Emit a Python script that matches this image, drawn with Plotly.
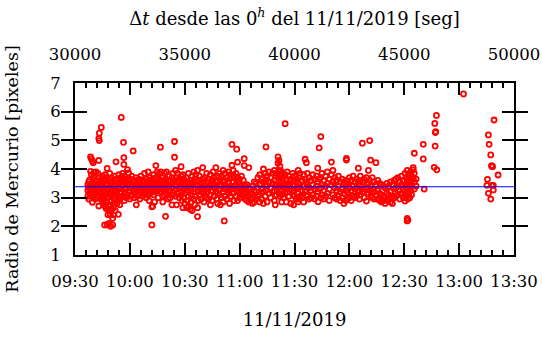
import plotly.graph_objects as go
import pandas as pd

# minutes after 09:30 of 11/11/2019 and measured radius (pixels)
obs_0930 = [
    (7.0, 3.45), (7.0, 3.25), (7.0, 3.05), (7.5, 3.55), (7.5, 3.35), (7.5, 2.95),
    (8.0, 3.62), (8.0, 3.15), (8.5, 4.42), (8.5, 3.92), (8.5, 3.40),
    (9.0, 4.35), (9.0, 3.80), (9.0, 3.28), (9.0, 3.10), (9.5, 4.28), (9.5, 2.84), (9.5, 3.50),
    (10.0, 4.22), (10.0, 3.70), (10.0, 3.20), (10.0, 3.02), (10.5, 3.88), (10.5, 3.45), (10.5, 3.30),
    (11.0, 3.60), (11.0, 3.15), (11.0, 2.95), (11.5, 3.90), (11.5, 3.40),
    (12.0, 3.55), (12.0, 3.22), (12.0, 3.00), (12.5, 3.85), (12.5, 3.35), (12.5, 3.08),
    (13.0, 5.07), (13.0, 4.30), (13.0, 3.50), (13.0, 2.71), (13.3, 5.25), (13.3, 4.99), (13.3, 3.70), (13.3, 3.20),
    (14.0, 3.60), (14.0, 3.30), (14.0, 2.95), (14.4, 5.45), (14.4, 3.40), (14.4, 3.15),
    (15.0, 3.75), (15.0, 3.45), (15.0, 3.05), (15.0, 2.90), (15.5, 3.55), (15.5, 3.25), (15.5, 2.80),
    (16.0, 3.65), (16.0, 3.35), (16.2, 2.05), (16.0, 2.95), (16.5, 3.80), (16.5, 3.10), (16.5, 2.70),
    (17.0, 3.50), (17.0, 3.20), (17.0, 2.62), (17.0, 2.85), (17.6, 4.02), (17.6, 3.70), (17.6, 3.30), (17.6, 2.05),
    (18.0, 3.45), (18.0, 3.00), (18.0, 2.60), (18.0, 2.40), (18.5, 3.60), (18.5, 3.15), (18.5, 2.75), (18.5, 2.10),
    (19.0, 3.85), (19.0, 3.35), (19.0, 2.55), (19.3, 2.40), (19.5, 3.50), (19.5, 3.05), (19.5, 2.70), (19.5, 2.00),
    (20.0, 3.70), (20.0, 3.25), (20.0, 2.90), (20.0, 2.60), (20.6, 3.55), (20.6, 2.28), (20.6, 2.05), (20.6, 3.10),
    (21.0, 3.40), (21.0, 3.00), (21.2, 2.40), (21.0, 2.65), (21.5, 3.75), (21.5, 3.20), (21.5, 2.85),
    (22.0, 3.60), (22.0, 3.30), (22.0, 2.95), (22.0, 2.55), (22.4, 4.25), (22.4, 3.45), (22.4, 3.10),
    (23.0, 3.65), (23.0, 3.25), (23.0, 2.80), (23.7, 3.50), (23.7, 3.05), (23.7, 2.42),
    (24.0, 3.80), (24.0, 3.35), (24.0, 2.95), (24.5, 3.60), (24.5, 3.15), (24.5, 2.75),
    (25.0, 3.70), (25.0, 3.40), (25.0, 3.00), (25.3, 5.80), (25.3, 3.55), (25.3, 3.20),
    (26.0, 3.85), (26.0, 3.45), (26.0, 3.05), (26.5, 4.93), (26.7, 4.40), (26.7, 4.16), (26.5, 3.60),
    (27.0, 3.75), (27.0, 3.30), (27.0, 2.90), (27.5, 3.55), (27.5, 3.15),
    (28.0, 3.65), (28.0, 3.35), (28.0, 3.00), (28.7, 3.98), (28.7, 3.45), (28.7, 3.10),
    (29.3, 3.86), (29.3, 3.60), (29.3, 3.25),
]
obs_1000 = [
    (30.0, 3.50), (30.0, 3.20), (30.0, 2.95), (30.5, 3.65), (30.5, 3.35), (30.5, 3.05),
    (31.0, 3.75), (31.0, 3.40), (31.0, 3.10), (31.8, 4.63), (31.8, 3.55), (31.8, 3.25),
    (32.5, 3.60), (32.5, 3.30), (32.5, 3.00), (33.0, 3.45), (33.0, 3.15),
    (33.5, 3.70), (33.5, 3.35), (33.5, 2.75), (34.0, 3.55), (34.0, 3.25), (34.0, 3.05),
    (35.0, 3.65), (35.0, 3.40), (35.0, 3.10), (35.5, 3.50), (35.5, 3.20), (35.5, 2.95),
    (36.0, 3.75), (36.0, 3.35), (37.0, 3.60), (37.0, 3.30), (37.0, 3.05), (37.5, 3.45), (37.5, 3.15),
    (38.0, 3.85), (38.0, 3.55), (38.0, 3.25), (39.0, 3.65), (39.0, 3.35), (39.0, 3.00), (39.5, 3.50), (39.5, 3.20),
    (40.0, 3.90), (40.0, 3.40), (40.0, 3.10), (40.5, 3.60), (40.5, 3.30), (40.5, 2.90),
    (41.0, 3.70), (41.0, 3.45), (41.0, 3.15), (42.0, 3.55), (42.0, 3.25), (42.0, 2.68), (42.0, 2.05),
    (42.5, 3.65), (42.5, 3.35), (42.5, 2.70), (43.0, 3.80), (43.0, 3.45), (43.0, 3.10),
    (43.5, 3.55), (43.5, 3.20), (43.5, 2.85), (44.2, 4.12), (44.2, 3.70), (44.2, 3.40),
    (45.0, 3.90), (45.0, 3.50), (45.0, 3.25), (45.5, 3.65), (45.5, 3.30), (45.5, 3.00),
    (46.0, 3.85), (46.0, 3.45), (46.7, 4.76), (46.7, 3.60), (46.7, 3.30),
    (47.0, 3.90), (47.0, 3.55), (47.0, 3.20), (48.0, 3.70), (48.0, 3.35), (48.0, 3.05), (48.0, 2.85),
    (48.5, 3.55), (48.5, 3.25), (49.0, 3.85), (49.0, 3.45), (49.0, 3.10), (49.5, 3.65), (49.5, 3.30), (49.5, 2.35),
    (50.0, 3.90), (50.0, 3.50), (50.0, 3.15), (51.0, 3.60), (51.0, 3.25), (51.0, 2.95), (51.5, 3.75), (51.5, 3.40),
    (52.0, 3.55), (52.0, 3.20), (52.0, 3.00), (53.0, 3.70), (53.0, 3.35), (53.0, 2.75),
    (53.5, 3.85), (53.5, 3.50), (53.5, 3.10), (54.4, 4.96), (54.4, 4.41), (54.4, 3.60), (54.4, 3.25),
    (55.0, 3.95), (55.0, 3.45), (55.0, 3.05), (55.5, 3.70), (55.5, 3.30), (55.5, 2.75),
    (56.0, 3.85), (56.0, 3.55), (56.0, 3.15), (57.0, 3.65), (57.0, 3.35), (57.0, 3.00),
    (58.0, 4.08), (58.0, 3.75), (58.0, 3.40), (58.0, 3.10), (58.5, 3.55), (58.5, 3.20), (58.5, 2.90),
    (59.0, 3.80), (59.0, 3.45), (59.0, 2.65), (59.5, 3.65), (59.5, 3.30), (59.5, 3.00),
]
obs_1030 = [
    (60.0, 3.50), (60.0, 3.15), (60.0, 2.80), (61.0, 3.70), (61.0, 3.35), (61.0, 2.65),
    (61.5, 3.55), (61.5, 3.25), (61.5, 2.90), (62.0, 3.85), (62.0, 3.45), (62.0, 3.05), (62.0, 2.68),
    (63.0, 3.60), (63.0, 3.30), (63.0, 2.60), (63.5, 3.40), (63.5, 3.10), (63.5, 2.85),
    (64.0, 3.75), (64.0, 3.50), (64.0, 2.55), (65.0, 3.90), (65.0, 3.55), (65.0, 3.20), (65.0, 2.95),
    (65.5, 3.65), (65.5, 3.30), (65.5, 2.75), (66.0, 3.80), (66.0, 3.45), (66.0, 3.05),
    (67.0, 3.95), (67.0, 3.40), (67.0, 2.34), (67.0, 2.65), (67.5, 3.60), (67.5, 3.25), (67.5, 2.90),
    (68.0, 3.75), (68.0, 3.35), (68.0, 3.10), (69.0, 3.55), (69.0, 3.20), (69.0, 2.95),
    (69.8, 4.05), (69.8, 3.65), (69.8, 3.30), (70.5, 3.50), (70.5, 3.15), (70.5, 2.85),
    (71.0, 3.70), (71.0, 3.40), (71.0, 3.05), (72.0, 3.85), (72.0, 3.30), (72.0, 3.00), (72.5, 3.55), (72.5, 3.20),
    (73.0, 3.65), (73.0, 3.35), (73.0, 2.95), (74.0, 3.80), (74.0, 3.45), (74.0, 3.10), (74.0, 2.75),
    (75.0, 3.60), (75.0, 3.25), (75.0, 2.90), (75.5, 3.90), (75.5, 3.50),
    (76.0, 3.70), (76.0, 3.35), (76.0, 3.05), (77.0, 4.05), (77.0, 3.55), (77.0, 3.20),
    (77.5, 3.75), (77.5, 3.40), (77.5, 2.95), (78.0, 3.60), (78.0, 3.15), (78.0, 2.80),
    (79.0, 3.85), (79.0, 3.45), (79.0, 3.10), (79.5, 3.65), (79.5, 3.30), (79.5, 2.75),
    (80.0, 3.75), (80.0, 3.40), (80.0, 3.00), (81.0, 3.95), (81.0, 3.55), (81.0, 3.20), (81.0, 2.85),
    (81.6, 3.60), (81.6, 3.30), (81.6, 2.19), (82.0, 3.85), (82.0, 3.45), (82.0, 3.05),
    (83.0, 3.70), (83.0, 3.35), (83.0, 2.95), (84.0, 3.90), (84.0, 3.50), (84.0, 3.15),
    (84.5, 3.65), (84.5, 3.25), (84.5, 2.80), (85.0, 3.80), (85.0, 3.40), (85.0, 3.05),
    (85.8, 4.86), (85.8, 4.13), (85.8, 3.70), (85.8, 3.30), (86.5, 3.95), (86.5, 3.55), (86.5, 3.15),
    (87.0, 3.75), (87.0, 3.40), (87.0, 2.90), (88.0, 3.85), (88.0, 3.45), (88.0, 3.05),
    (88.4, 4.69), (88.4, 3.60), (88.4, 3.25), (88.9, 4.24), (88.9, 3.70), (88.9, 3.35), (88.9, 2.90),
    (89.5, 3.55), (89.5, 3.20),
]
obs_1100 = [
    (90.0, 3.65), (90.0, 3.30), (90.0, 3.00), (91.0, 3.75), (91.0, 3.40), (91.0, 3.10),
    (92.0, 3.60), (92.0, 3.35), (92.0, 3.05), (92.5, 4.36), (92.5, 4.12), (92.5, 3.45), (92.5, 3.15),
    (93.0, 3.40), (93.0, 3.20), (93.0, 2.95), (94.0, 3.45), (94.0, 3.15), (94.0, 2.90),
    (95.0, 4.05), (95.0, 3.35), (95.0, 3.05), (95.0, 2.85), (96.0, 3.30), (96.0, 3.10), (96.0, 2.95),
    (97.0, 3.40), (97.0, 3.00), (97.0, 2.80), (98.0, 3.55), (98.0, 3.25), (98.0, 2.85),
    (99.0, 3.50), (99.0, 3.20), (99.0, 2.95), (100.0, 3.70), (100.0, 3.35), (100.0, 3.05),
    (101.0, 3.80), (101.0, 3.45), (101.0, 3.10), (101.0, 2.85), (102.0, 3.65), (102.0, 3.30), (102.0, 2.95),
    (103.0, 4.00), (103.0, 3.55), (103.0, 3.20), (103.0, 2.80), (104.0, 3.85), (104.0, 3.45), (104.0, 3.05),
    (104.4, 4.77), (104.4, 3.60), (104.4, 3.25), (105.0, 3.75), (105.0, 3.40), (105.0, 2.85),
    (106.0, 3.90), (106.0, 3.55), (106.0, 3.15), (107.0, 3.70), (107.0, 3.35), (107.0, 3.00),
    (108.0, 3.85), (108.0, 3.50), (108.0, 3.20), (109.0, 3.95), (109.0, 3.60), (109.0, 3.25), (109.0, 2.90),
    (109.5, 3.75), (109.5, 3.40), (109.5, 2.75), (110.0, 3.85), (110.0, 3.45), (110.0, 3.10),
    (111.0, 4.42), (111.0, 4.20), (111.0, 3.70), (111.0, 3.35), (111.5, 4.30), (111.5, 3.95), (111.5, 3.55), (111.5, 3.15),
    (112.0, 4.10), (112.0, 3.80), (112.0, 3.40), (112.0, 3.05), (112.5, 3.93), (112.5, 3.65), (112.5, 3.25),
    (113.0, 3.85), (113.0, 3.50), (113.0, 2.85), (113.0, 3.10), (114.0, 3.70), (114.0, 3.35), (114.0, 3.00),
    (114.9, 5.58), (114.9, 3.80), (114.9, 3.45), (114.9, 3.15), (115.5, 3.60), (115.5, 3.30), (115.5, 2.85),
    (116.0, 3.90), (116.0, 3.50), (116.0, 3.20), (117.0, 3.75), (117.0, 3.40), (117.0, 3.05),
    (118.0, 3.65), (118.0, 3.30), (118.0, 2.80), (119.0, 3.85), (119.0, 3.45), (119.0, 3.10),
    (119.5, 3.60), (119.5, 3.25), (119.5, 2.75),
]
obs_1130 = [
    (120.0, 3.75), (120.0, 3.40), (120.0, 3.05), (121.0, 3.65), (121.0, 3.30), (121.0, 2.95),
    (122.0, 3.95), (122.0, 3.50), (122.0, 3.15), (122.0, 2.85), (122.5, 3.70), (122.5, 3.35), (122.5, 2.95),
    (123.0, 3.85), (123.0, 3.45), (123.0, 3.05), (124.0, 3.60), (124.0, 3.25), (124.0, 3.00),
    (125.0, 3.80), (125.0, 3.40), (125.0, 2.85), (125.8, 4.34), (125.8, 3.65), (125.8, 3.20),
    (126.5, 4.22), (126.5, 3.55), (126.5, 3.10), (127.0, 3.85), (127.0, 3.45), (127.0, 3.05),
    (128.0, 3.70), (128.0, 3.35), (128.0, 2.95), (129.0, 3.60), (129.0, 3.25), (129.0, 3.00),
    (130.0, 3.80), (130.0, 3.45), (130.0, 3.10), (131.0, 3.65), (131.0, 3.30), (131.0, 2.95),
    (132.0, 3.75), (132.0, 3.40), (132.0, 3.05), (132.7, 4.03), (132.7, 3.55), (132.7, 3.20), (132.9, 2.86),
    (133.5, 4.74), (133.5, 3.65), (133.5, 3.30), (134.4, 5.13), (134.4, 3.70), (134.4, 3.35), (134.4, 3.00),
    (135.0, 3.85), (135.0, 3.45), (135.0, 3.10), (136.0, 3.60), (136.0, 3.25), (136.0, 2.95),
    (137.0, 3.75), (137.0, 3.40), (137.0, 3.05), (138.0, 3.90), (138.0, 3.50), (138.0, 3.15),
    (139.0, 3.65), (139.0, 3.30), (139.0, 2.90), (140.2, 4.24), (140.2, 3.80), (140.2, 3.45),
    (141.0, 3.95), (141.0, 3.55), (141.0, 3.10), (142.0, 3.70), (142.0, 3.35), (142.0, 3.00),
    (143.0, 3.60), (143.0, 3.25), (143.0, 2.95), (144.0, 3.75), (144.0, 3.40), (144.0, 3.05),
    (145.0, 3.55), (145.0, 3.20), (145.0, 2.90), (146.0, 3.65), (146.0, 3.30), (146.0, 3.00),
    (147.0, 3.50), (147.0, 3.15), (147.0, 2.80), (148.0, 3.60), (148.0, 3.25), (148.0, 2.90),
    (148.4, 4.37), (148.4, 4.31), (148.4, 3.45), (149.0, 3.55), (149.0, 3.20), (149.0, 2.95),
]
obs_1200 = [
    (150.0, 3.70), (150.0, 3.35), (150.0, 3.00), (151.0, 3.60), (151.0, 3.25), (151.0, 2.90),
    (152.0, 3.75), (152.0, 3.40), (152.0, 3.05), (153.0, 3.55), (153.0, 3.30), (153.0, 3.00),
    (154.0, 3.65), (154.0, 3.35), (154.0, 3.05), (154.9, 4.03), (154.9, 3.50), (154.9, 3.20),
    (155.5, 3.60), (155.5, 3.25), (155.5, 2.95), (156.0, 3.75), (156.0, 3.45), (156.0, 3.10),
    (157.1, 4.90), (157.1, 3.55), (157.1, 3.20), (158.0, 3.65), (158.0, 3.30), (158.0, 3.00),
    (159.3, 3.70), (159.3, 3.35), (159.3, 2.88), (160.4, 3.95), (160.4, 3.50), (160.4, 3.15),
    (161.1, 4.99), (161.1, 3.60), (161.1, 3.25), (161.6, 4.31), (161.6, 3.40), (161.6, 3.05),
    (162.5, 3.70), (162.5, 3.30), (162.5, 3.00), (163.5, 3.55), (163.5, 3.20), (163.5, 2.95),
    (164.5, 4.22), (164.5, 3.45), (164.5, 3.10), (165.5, 3.60), (165.5, 3.25), (165.5, 2.95),
    (166.5, 3.50), (166.5, 3.15), (166.5, 2.90), (167.5, 3.45), (167.5, 3.10), (167.5, 2.85),
    (168.5, 3.40), (168.5, 3.05), (168.5, 2.90), (169.5, 3.35), (169.5, 3.00), (169.5, 2.80),
    (170.5, 3.50), (170.5, 3.15), (170.5, 2.90), (171.5, 3.40), (171.5, 3.10), (171.5, 2.95),
    (172.5, 3.55), (172.5, 3.20), (172.5, 2.85), (173.5, 3.45), (173.5, 3.05), (173.5, 2.80),
    (174.5, 3.60), (174.5, 3.30), (174.5, 3.00), (175.5, 3.65), (175.5, 3.35), (175.5, 3.05),
    (176.5, 3.70), (176.5, 3.40), (176.5, 3.10), (177.5, 3.55), (177.5, 3.25), (177.5, 2.95),
    (178.5, 3.75), (178.5, 3.45), (178.5, 3.15), (179.5, 3.60), (179.5, 3.30), (179.5, 3.00),
]
obs_1230 = [
    (180.4, 3.85), (180.4, 3.45), (180.4, 3.10), (180.4, 2.88), (181.0, 3.70), (181.0, 3.35), (181.0, 3.05),
    (181.6, 3.95), (181.6, 3.55), (181.6, 2.28), (181.6, 2.19), (182.0, 3.65), (182.0, 3.30), (182.0, 2.95), (182.0, 2.22),
    (182.5, 3.80), (182.5, 3.45), (182.5, 3.15), (183.0, 3.70), (183.0, 3.40), (183.0, 3.00),
    (183.5, 3.90), (183.5, 3.55), (183.5, 3.25), (184.0, 3.75), (184.0, 3.45), (184.0, 3.10),
    (184.9, 4.05), (184.9, 3.97), (184.9, 3.70), (185.5, 4.55), (185.5, 3.85), (185.5, 3.55), (185.5, 3.30),
    (186.5, 3.65), (186.5, 3.40), (190.4, 4.86), (190.4, 4.35), (190.9, 3.30),
    (196.4, 4.06), (196.7, 5.59), (196.9, 4.80), (197.0, 5.27), (197.2, 5.30),
    (197.6, 5.87), (197.8, 3.97), (212.4, 6.62),
]
obs_1300 = [
    (225.2, 3.43), (225.5, 3.64), (226.0, 5.19), (226.0, 3.15), (226.4, 4.86),
    (227.3, 4.49), (227.3, 2.95), (227.8, 4.10), (227.8, 4.12), (227.8, 3.43),
    (228.3, 4.08), (228.7, 3.27), (228.7, 3.43), (229.1, 5.71), (231.3, 3.79),
]
mean_radius = 3.38
top_ticks = [30000, 35000, 40000, 45000, 50000]
date_label = "11/11/2019"
start = pd.Timestamp("2019-11-11 09:30")
end = pd.Timestamp("2019-11-11 13:30")

obs = obs_0930 + obs_1000 + obs_1030 + obs_1100 + obs_1130 + obs_1200 + obs_1230 + obs_1300
minutes = [o[0] for o in obs]
radius = [o[1] for o in obs]
times = start + pd.to_timedelta(minutes, unit="min")

FONT = "DejaVu Serif"
fig = go.Figure()
fig.add_trace(go.Scatter(
    x=times, y=radius, mode="markers",
    marker=dict(symbol="circle-open", size=5, color="#ff0000", line=dict(width=1.8, color="#ff0000")),
    showlegend=False, hoverinfo="skip"))
fig.add_trace(go.Scatter(
    x=[start, end], y=[mean_radius, mean_radius], mode="lines",
    line=dict(color="#0000ff", width=1.2), showlegend=False, hoverinfo="skip"))
fig.add_trace(go.Scatter(
    x=top_ticks, y=[None] * len(top_ticks), xaxis="x2", mode="markers",
    showlegend=False, hoverinfo="skip"))

fig.update_layout(
    width=542, height=337,
    margin=dict(l=75, r=28, t=83, b=82),
    paper_bgcolor="white", plot_bgcolor="white",
    font=dict(family=FONT, size=16.5, color="black"),
    xaxis=dict(
        type="date", range=[start, end], tick0=start, dtick=1800000, tickformat="%H:%M",
        ticks="inside", ticklen=12, tickwidth=1.5, tickcolor="black",
        minor=dict(dtick=360000, ticks="inside", ticklen=5, tickwidth=1.5, tickcolor="black"),
        showline=True, linewidth=2, linecolor="black", mirror="allticks",
        showgrid=False, zeroline=False, ticklabelstandoff=10, automargin=False,
        title=dict(text=date_label, font=dict(size=18), standoff=24),
    ),
    xaxis2=dict(
        overlaying="x", side="top", range=[top_ticks[0], top_ticks[-1]], tickvals=top_ticks,
        tickformat="d", ticks="", showline=False, showgrid=False, zeroline=False,
        ticklabelstandoff=19, automargin=False,
        title=dict(text="Δ<i>t</i> desde las 0<sup><i>h</i></sup> del 11/11/2019 [seg]", font=dict(size=18), standoff=14),
    ),
    yaxis=dict(
        range=[1, 7], dtick=1, ticks="inside", ticklen=12, tickwidth=1.5, tickcolor="black",
        showline=True, linewidth=2, linecolor="black", mirror="allticks",
        showgrid=False, zeroline=False, ticklabelstandoff=9, automargin=False,
        title=dict(text="Radio de Mercurio [pixeles]", font=dict(size=17.5), standoff=27),
    ),
)
fig.write_html(
    "out.html",
    config={"displayModeBar": False},
    post_script="document.body.style.margin='0';document.body.style.overflow='hidden';",
)
